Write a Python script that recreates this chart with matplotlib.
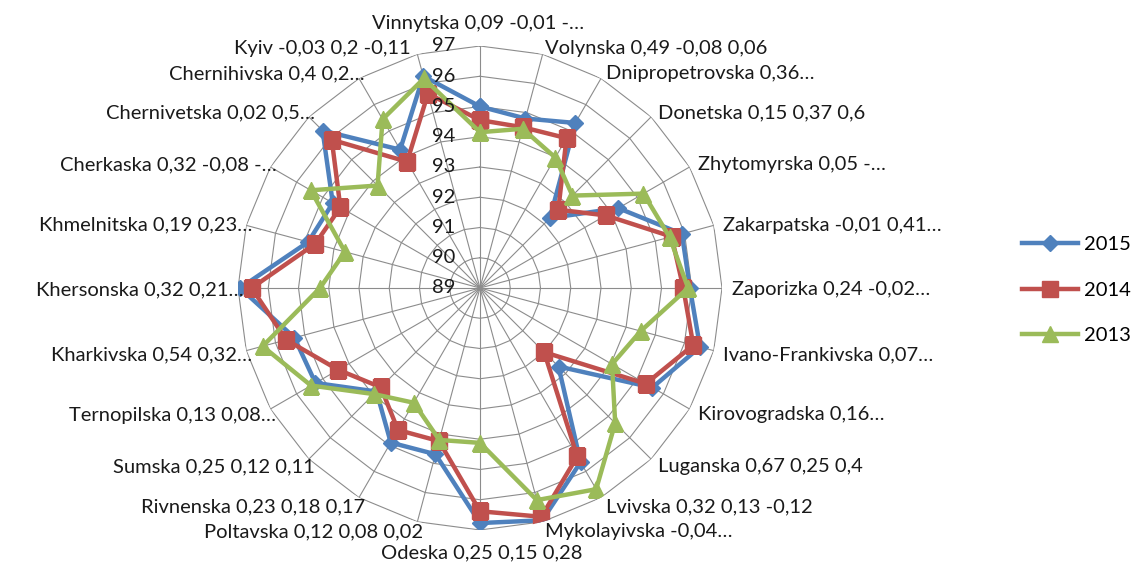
import numpy as np
import matplotlib
matplotlib.use('Agg')
import matplotlib.pyplot as plt
from matplotlib.lines import Line2D

plt.rcParams['font.family'] = ['Lato', 'DejaVu Sans']

# category labels as printed round the chart (clockwise from top)
labels = [
    'Vinnytska 0,09 -0,01 -…', 'Volynska 0,49 -0,08 0,06', 'Dnipropetrovska 0,36…',
    'Donetska 0,15 0,37 0,6', 'Zhytomyrska 0,05 -…', 'Zakarpatska -0,01 0,41…',
    'Zaporizka 0,24 -0,02…', 'Ivano-Frankivska 0,07…', 'Kirovogradska 0,16…',
    'Luganska 0,67 0,25 0,4', 'Lvivska 0,32 0,13 -0,12', 'Mykolayivska -0,04…',
    'Odeska 0,25 0,15 0,28', 'Poltavska 0,12 0,08 0,02', 'Rivnenska 0,23 0,18 0,17',
    'Sumska 0,25 0,12 0,11', 'Ternopilska 0,13 0,08…', 'Kharkivska 0,54 0,32…',
    'Khersonska 0,32 0,21…', 'Khmelnitska 0,19 0,23…', 'Cherkaska 0,32 -0,08 -…',
    'Chernivetska 0,02 0,5…', 'Chernihivska 0,4 0,2…', 'Kyiv -0,03 0,2 -0,11',
]

y2015 = [95.0, 94.8, 95.3, 92.27, 94.28, 95.91, 95.94, 96.53, 95.58, 92.67, 95.65, 96.95,
         96.77, 94.69, 94.9, 93.84, 95.28, 95.35, 96.93, 94.88, 94.62, 96.36, 94.28, 96.25]
y2014 = [94.55, 94.5, 94.72, 92.66, 93.8, 95.56, 95.72, 96.3, 95.33, 92.0, 95.43, 96.83,
         96.38, 94.24, 94.42, 93.64, 94.41, 95.63, 96.55, 94.64, 94.33, 95.93, 93.82, 95.65]
y2013 = [94.15, 94.45, 93.98, 93.32, 95.24, 95.49, 95.88, 94.5, 94.04, 95.32, 96.68, 96.26,
         94.12, 94.2, 93.38, 93.96, 95.45, 96.44, 94.29, 93.62, 95.46, 93.79, 95.44, 96.17]

rmin, rmax = 89, 97

fig = plt.figure(figsize=(11.37, 5.73), dpi=100)
ax = fig.add_axes([238 / 1137, 43 / 573, 484 / 1137, 484 / 573], projection='polar')
ax.set_theta_zero_location('N')
ax.set_theta_direction(-1)
ax.set_ylim(rmin, rmax)
ax.grid(False)
ax.set_xticks([])
ax.set_yticks([])
ax.spines['polar'].set_visible(False)

n = len(labels)
theta = np.arange(n) * 2 * np.pi / n
theta_c = np.append(theta, theta[0])

gc = '#8c8c8c'
# polygon gridlines and spokes like an Excel radar chart
for lvl in range(rmin + 1, rmax + 1):
    ax.plot(theta_c, [lvl] * (n + 1), color=gc, lw=0.8, zorder=1)
for t in theta:
    ax.plot([t, t], [rmin, rmax], color=gc, lw=0.8, zorder=1)

series = [('2015', y2015, '#4f81bd', 'D', 8),
          ('2014', y2014, '#c0504d', 's', 11),
          ('2013', y2013, '#9bbb59', '^', 12)]
handles = []
for name, vals, col, mk, ms in series:
    v = np.append(vals, vals[0])
    ax.plot(theta_c, v, color=col, lw=3.2, marker=mk, markersize=ms, zorder=3)
    handles.append(Line2D([], [], color=col, lw=3.2, marker=mk, markersize=ms, label=name))

fs = 14.5
tc = '#1a1a1a'
# radial value labels to the left of the top spoke
for lvl in range(rmin, rmax + 1):
    ax.annotate(str(lvl), xy=(0, lvl), xytext=(-18, 0), textcoords='offset points',
                ha='right', va='center', fontsize=fs, color=tc)

px = 0.72
for i, (t, lab) in enumerate(zip(theta, labels)):
    s, c = np.sin(t), np.cos(t)
    if abs(s) < 0.05:
        ha = 'center'
        if c > 0:
            va, dx, dy = 'bottom', -2, 14
        else:
            va, dx, dy = 'top', 2, -14
    elif s > 0:
        ha, va = 'left', 'center'
        dx, dy = 10 * s, 8 * c - 2
    else:
        ha, va = 'right', 'center'
        dx, dy = 6, 8 * c - 2
    if lab.startswith('Kyiv'):
        dx = -7
    ax.annotate(lab, xy=(t, rmax), xytext=(dx * px, dy * px), textcoords='offset points',
                ha=ha, va=va, fontsize=fs, color=tc, annotation_clip=False)

fig.legend(handles=handles, loc='center left', bbox_to_anchor=(1022 / 1137, 1 - 290 / 573),
           frameon=False, fontsize=fs, handlelength=2.8, handletextpad=0.3,
           labelspacing=1.4, borderpad=0, borderaxespad=0)

fig.savefig('out.png', dpi=100)
